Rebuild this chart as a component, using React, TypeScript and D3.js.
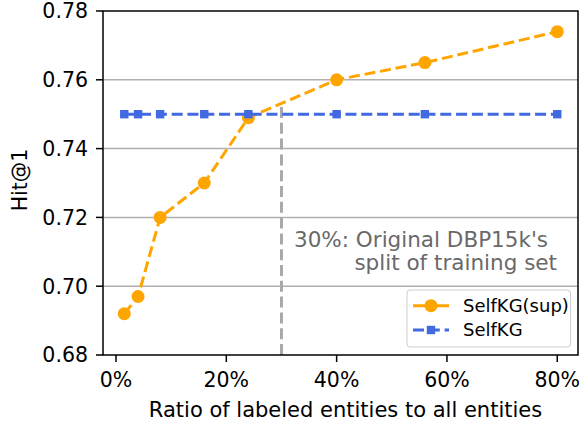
import React from "react";
import * as d3 from "d3";

const ratios = [1.5, 4, 8, 16, 24, 40, 56, 80];
const selfkgSup = [0.692, 0.697, 0.72, 0.73, 0.749, 0.76, 0.765, 0.774];
const selfkg = [0.75, 0.75, 0.75, 0.75, 0.75, 0.75, 0.75, 0.75];
const xTicks = [0, 20, 40, 60, 80];
const yTicks = [0.68, 0.7, 0.72, 0.74, 0.76, 0.78];
const splitRatio = 30;
const splitTop = 0.753;
const annotationLines = ["30%: Original DBP15k's", "split of training set"];
const seriesNames = ["SelfKG(sup)", "SelfKG"];

const W = 582;
const H = 423;
const L = 103, R = 578, T = 11, B = 355;
const font = "'DejaVu Sans', sans-serif";

export default function App() {
  const x = d3.scaleLinear().domain([-2.357, 83.76]).range([L, R]);
  const y = d3.scaleLinear().domain([0.68, 0.78]).range([B, T]);
  const lineSup = d3.line<number>().x((_, i) => x(ratios[i])).y((d) => y(d));
  const lineSelf = d3.line<number>().x((_, i) => x(ratios[i])).y((d) => y(d));
  const orange = "#FFA500";
  const blue = "#4169E1";
  return (
    <svg width={W} height={H} style={{ position: "absolute", left: 0, top: 0 }} fontFamily={font}>
      <rect x={0} y={0} width={W} height={H} fill="#fff" />
      {yTicks.slice(1, -1).map((t) => (
        <line key={t} x1={L} x2={R} y1={y(t)} y2={y(t)} stroke="#b0b0b0" strokeWidth={1.5} />
      ))}
      <line x1={x(splitRatio)} x2={x(splitRatio)} y1={y(0.68)} y2={y(splitTop)} stroke="#a9a9a9" strokeWidth={3} strokeDasharray="11 4.8" />
      <path d={lineSup(selfkgSup) || ""} fill="none" stroke={orange} strokeWidth={3} strokeDasharray="11 4.8" />
      {selfkgSup.map((v, i) => (
        <circle key={i} cx={x(ratios[i])} cy={y(v)} r={6.5} fill={orange} />
      ))}
      <path d={lineSelf(selfkg) || ""} fill="none" stroke={blue} strokeWidth={3} strokeDasharray="11 4.8" />
      {selfkg.map((v, i) => (
        <rect key={i} x={x(ratios[i]) - 4.2} y={y(v) - 4.2} width={8.4} height={8.4} fill={blue} />
      ))}
      <text x={294} y={246.5} fontSize={21.5} fill="#696969">{annotationLines[0]}</text>
      <text x={557} y={270} fontSize={21.5} fill="#696969" textAnchor="end">{annotationLines[1]}</text>
      <rect x={L} y={T} width={R - L} height={B - T} fill="none" stroke="#000" strokeWidth={1.5} />
      {yTicks.map((t) => (
        <g key={t}>
          <line x1={L - 7} x2={L} y1={y(t)} y2={y(t)} stroke="#000" strokeWidth={1.5} />
          <text x={88} y={y(t) + 7.4} fontSize={20.5} textAnchor="end" fill="#000">{t.toFixed(2)}</text>
        </g>
      ))}
      {xTicks.map((t) => (
        <g key={t}>
          <line x1={x(t)} x2={x(t)} y1={B} y2={B + 7} stroke="#000" strokeWidth={1.5} />
          <text x={x(t)} y={386.5} fontSize={20.5} textAnchor="middle" fill="#000">{t}%</text>
        </g>
      ))}
      <text x={345.5} y={416.5} fontSize={21} textAnchor="middle" fill="#000">Ratio of labeled entities to all entities</text>
      <text transform={`translate(26.5,${180}) rotate(-90)`} fontSize={20.5} textAnchor="middle" fill="#000">Hit@1</text>
      <g>
        <rect x={407} y={290} width={163.5} height={57} rx={3} fill="#fff" fillOpacity={0.8} stroke="#cccccc" strokeWidth={1} />
        <line x1={413} x2={449} y1={305.7} y2={305.7} stroke={orange} strokeWidth={3} />
        <circle cx={431} cy={305.7} r={6.5} fill={orange} />
        <text x={463} y={312} fontSize={18} fill="#000">{seriesNames[0]}</text>
        <line x1={413} x2={449} y1={330} y2={330} stroke={blue} strokeWidth={3} strokeDasharray="11 4.8" />
        <rect x={431 - 4.2} y={330 - 4.2} width={8.4} height={8.4} fill={blue} />
        <text x={463} y={336.3} fontSize={18} fill="#000">{seriesNames[1]}</text>
      </g>
    </svg>
  );
}
